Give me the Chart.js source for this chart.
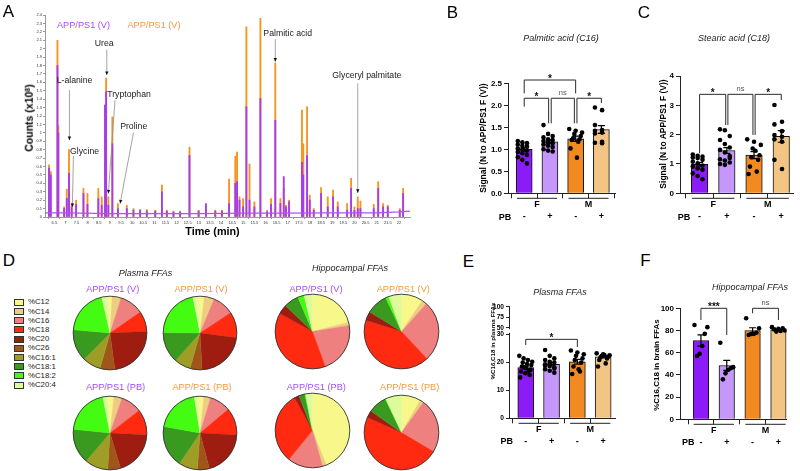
<!DOCTYPE html>
<html>
<head>
<meta charset="utf-8">
<title>APP/PS1 free fatty acids</title>
<script src="https://cdn.jsdelivr.net/npm/chart.js@4.4.1/dist/chart.umd.min.js"></script>
<style>
  body { margin: 0; background: #fff; }
  #fig { position: relative; width: 800px; height: 471px; overflow: hidden; background: #fff;
         font-family: "Liberation Sans", Arial, Helvetica, sans-serif; color: #000; }
  #fig canvas { position: absolute; }
  .lbl { position: absolute; white-space: nowrap; line-height: 1; transform: translate(-50%, -50%); }
  .rot { transform: translate(-50%, -50%) rotate(-90deg); }
  .key { position: absolute; width: 8px; height: 5px; border: 1px solid #333; }
  .keytxt { position: absolute; font-size: 7.8px; line-height: 1; color: #222; transform: translateY(-50%); white-space: nowrap; }
  sup { font-size: 65%; line-height: 0; vertical-align: 0.45em; }
</style>
</head>
<body>
<div id="fig"></div>
<script>
const FONT = "'Liberation Sans', Arial, Helvetica, sans-serif";
Chart.defaults.font.family = FONT;
Chart.defaults.color = '#000';
Chart.defaults.animation = false;
Chart.defaults.plugins.legend.display = false;
Chart.defaults.plugins.tooltip.enabled = false;

// ---------- A: chromatogram (peak apex heights, x10^8 counts) ----------
const peakTime = [6.26, 6.34, 6.64, 6.68, 6.94, 7.06, 7.16, 7.28, 7.48, 7.81, 7.99, 8.48, 8.63, 8.78, 8.83, 8.93, 9.11, 9.36, 9.76, 10.06,
  10.36, 10.66, 11.04, 11.34, 11.56, 11.86, 12.16, 12.58, 12.99, 13.32, 13.74, 14.04, 14.36, 14.64, 14.72, 14.83, 14.99, 15.14, 15.28, 15.5,
  15.77, 16.07, 16.25, 16.44, 16.67, 16.82, 16.92, 17.06, 17.64, 17.7, 17.87, 17.99, 18.17, 18.5, 18.8, 19.04, 19.25, 19.67, 19.85, 20.0,
  20.15, 20.27, 20.87, 21.07, 21.29, 21.5, 22.04, 22.19];
const peakOrange = [0.62, 0.54, 2.1, 1.09, 0.12, 0.33, 0.8, 0.15, 0.2, 0.34, 0.28, 0.34, 0.24, 1.33, 1.65, 0.24, 1.19, 0.16, 0.14, 0.1,
  0.09, 0.09, 0.08, 0.38, 0.08, 0.07, 0.07, 0.83, 0.08, 0.12, 0.08, 0.08, 0.45, 0.72, 0.77, 0.24, 0.22, 2.26, 0.63, 0.18,
  2.36, 0.08, 0.22, 1.83, 0.22, 0.34, 0.14, 0.2, 1.27, 0.87, 1.31, 0.26, 0.1, 0.35, 0.24, 0.32, 0.18, 0.16, 0.46, 0.12,
  0.24, 0.19, 0.15, 0.42, 0.16, 0.14, 0.1, 0.34];
const peakPurple = [0.58, 0.5, 1.8, 1.0, 0.1, 0.22, 0.52, 0.12, 0.15, 0.28, 0.15, 0.22, 0.14, 1.33, 1.49, 0.14, 0.87, 0.1, 0.1, 0.08,
  0.08, 0.07, 0.07, 0.3, 0.07, 0.06, 0.06, 0.73, 0.07, 0.16, 0.07, 0.07, 0.16, 0.4, 0.42, 0.2, 0.12, 1.31, 0.2, 0.12,
  1.41, 0.06, 0.15, 1.15, 0.16, 0.48, 0.12, 0.18, 0.65, 0.5, 0.73, 0.2, 0.08, 0.28, 0.12, 0.24, 0.12, 0.08, 0.34, 0.08,
  0.1, 0.1, 0.1, 0.34, 0.12, 0.12, 0.08, 0.28];
const baseTime = [6.08, 7, 9, 11, 13, 15, 17, 19, 21, 22, 22.5];
const baseLevel = [0.05, 0.05, 0.04, 0.04, 0.04, 0.045, 0.045, 0.05, 0.05, 0.06, 0.07];
const timeTicks = [6.5, 7, 7.5, 8, 8.5, 9, 9.5, 10, 10.5, 11, 11.5, 12, 12.5, 13, 13.5, 14, 14.5, 15, 15.5, 16,
  16.5, 17, 17.5, 18, 18.5, 19, 19.5, 20, 20.5, 21, 21.5, 22];
const countTicks = [0, 0.1, 0.2, 0.3, 0.4, 0.5, 0.6, 0.7, 0.8, 0.9, 1, 1.1, 1.2, 1.3, 1.4, 1.5, 1.6, 1.7, 1.8, 1.9, 2, 2.1, 2.2, 2.3, 2.4];
// annotations: label position and arrow, in (min, counts)
const chromNotes = [
  { name: 'L-alanine', tx: 7.41, ty: 1.615, x1: 7.18, y1: 1.508, x2: 7.18, y2: 0.913 },
  { name: 'Urea', tx: 8.74, ty: 2.064, x1: 8.86, y1: 1.988, x2: 8.86, y2: 1.687 },
  { name: 'Tryptophan', tx: 9.86, ty: 1.457, x1: 9.23, y1: 1.389, x2: 8.93, y2: 0.279 },
  { name: 'Glycine', tx: 7.86, ty: 0.782, x1: 7.36, y1: 0.726, x2: 7.31, y2: 0.119 },
  { name: 'Proline', tx: 10.07, ty: 1.071, x1: 10.06, y1: 1.0, x2: 9.46, y2: 0.16 },
  { name: 'Palmitic acid', tx: 17.0, ty: 2.183, x1: 16.44, y1: 2.112, x2: 16.44, y2: 1.846 },
  { name: 'Glyceryl palmitate', tx: 20.56, ty: 1.675, x1: 20.15, y1: 1.588, x2: 20.15, y2: 0.286 }
];

// ---------- bar panels ----------
const pbLabels = ['-', '+', '-', '+'];
const sexGroups = ['F', 'M'];
const barColors = ['#8c1cf7', '#c597fb', '#f28a22', '#f2c585'];

const palmMean = [1.0, 1.17, 1.24, 1.45];
const palmSem = [0.04, 0.04, 0.06, 0.09];
const palmDots = [
  [1.19, 1.16, 1.14, 1.11, 1.08, 1.06, 1.02, 1.0, 0.97, 0.94, 0.91, 0.87, 0.82, 0.76, 0.68],
  [1.55, 1.35, 1.3, 1.27, 1.23, 1.21, 1.19, 1.16, 1.14, 1.11, 1.08, 1.05, 1.0, 0.97, 0.95],
  [1.46, 1.42, 1.38, 1.35, 1.3, 1.25, 1.23, 1.21, 1.17, 1.02, 0.81],
  [1.95, 1.89, 1.55, 1.44, 1.42, 1.38, 1.36, 1.17, 1.15, 1.14]
];
const palmTicks = [0, 0.5, 1, 1.5, 2, 2.5];
const palmBrackets = [
  { from: 0, to: 2, y: 2.575, legFrom: 2.27, legTo: 2.27, text: '*' },
  { from: 0, to: 0.95, y: 2.16, legFrom: 1.97, legTo: 1.59, text: '*' },
  { from: 1.05, to: 1.95, y: 2.16, legFrom: 1.59, legTo: 1.59, text: 'ns' },
  { from: 2.05, to: 3, y: 2.16, legFrom: 1.59, legTo: 2.05, text: '*' }
];

const stearMean = [0.99, 1.46, 1.3, 1.94];
const stearSem = [0.06, 0.1, 0.12, 0.2];
const stearDots = [
  [1.32, 1.28, 1.25, 1.22, 1.2, 1.14, 1.08, 1.02, 0.95, 0.91, 0.85, 0.8, 0.68, 0.59, 0.48],
  [2.18, 2.15, 1.95, 1.82, 1.68, 1.56, 1.48, 1.39, 1.27, 1.16, 1.12, 1.05, 1.0, 0.97, 1.2],
  [1.84, 1.76, 1.65, 1.53, 1.3, 1.23, 1.14, 0.91, 0.74, 0.66, 1.45],
  [3.01, 2.44, 2.35, 2.12, 1.99, 1.93, 1.84, 1.76, 1.14, 0.83]
];
const stearTicks = [0, 1, 2, 3, 4];
const stearBrackets = [
  { from: 0, to: 0.96, y: 3.375, legFrom: 1.36, legTo: 2.33, text: '*' },
  { from: 1.04, to: 1.96, y: 3.375, legFrom: 2.33, legTo: 1.99, text: 'ns' },
  { from: 2.04, to: 3, y: 3.375, legFrom: 1.99, legTo: 3.18, text: '*' }
];

const plasmaMean = [18.1, 19.3, 20.2, 22.0];
const plasmaSem = [0.5, 0.55, 0.85, 0.4];
const plasmaDots = [
  [22.3, 21.4, 20.8, 20.2, 19.9, 19.4, 19.0, 18.5, 17.9, 17.3, 16.7, 16.1, 15.5, 14.6, 18.2, 17.0],
  [24.4, 22.3, 21.4, 20.8, 20.2, 19.9, 19.3, 18.7, 18.2, 17.5, 17.0, 16.3, 18.9, 19.6, 17.8],
  [24.2, 23.5, 22.9, 22.3, 21.4, 20.8, 19.9, 18.5, 16.7, 15.8, 17.5],
  [23.2, 22.9, 22.5, 22.3, 22.0, 21.8, 21.4, 20.8, 19.6, 18.5, 22.6]
];
const plasmaTicksLow = [0, 10, 20, 30];
const plasmaTicksHigh = [50, 75, 100];
const plasmaBrackets = [{ from: 0, to: 2, y: 28.2, legFrom: 26.2, legTo: 25.5, text: '*' }];

const brainMean = [71, 48.5, 80, 80.5];
const brainSem = [5, 4.5, 2.5, 0.8];
const brainDots = [
  [85, 83, 77, 66, 59, 57],
  [69, 47, 46, 44.4, 41.4, 36],
  [91, 82, 78, 77, 77, 76],
  [83, 82, 81.5, 81, 80, 79.5, 79]
];
const brainTicks = [0, 20, 40, 60, 80, 100];
const brainBrackets = [
  { from: 0, to: 1, y: 100, legFrom: 89.5, legTo: 76, text: '***' },
  { from: 2, to: 3, y: 100, legFrom: 95.5, legTo: 89.5, text: 'ns' }
];

// ---------- D: FFA composition (%) ----------
const fattyAcids = ['%C12', '%C14', '%C16', '%C18', '%C20', '%C26', '%C16:1', '%C18:1', '%C18:2', '%C20:4'];
const faColors = ['#f8f88a', '#eecd80', '#ef8080', '#ff2a10', '#9e1c10', '#a0561a', '#9e9e26', '#3a9a20', '#44fb12', '#ddfb9a'];
const plasmaFV = [2.0, 4.0, 10.5, 9.0, 23.5, 6.5, 8.0, 14.0, 20.0, 2.5];
const plasmaMV = [3.0, 4.4, 9.4, 11.4, 22.0, 5.3, 7.2, 13.6, 21.7, 2.0];
const plasmaFPB = [2.8, 3.6, 9.2, 11.4, 19.5, 5.6, 10.3, 15.3, 20.3, 2.0];
const plasmaMPB = [2.8, 3.0, 9.2, 12.0, 20.0, 5.3, 8.3, 18.3, 19.7, 1.4];
const hippoFV = [21.0, 1.4, 22.0, 38.6, 4.2, 0, 0, 6.4, 2.8, 3.6];
const hippoMV = [9.4, 2.2, 26.4, 41.9, 3.9, 0, 0, 9.2, 1.4, 5.6];
const hippoFPB = [43.9, 1.7, 15.3, 31.1, 2.1, 0, 0, 2.6, 0.3, 3.0];
const hippoMPB = [8.3, 1.7, 23.6, 48.1, 3.1, 0, 0, 8.1, 0.3, 6.9];

const PURPLE_TXT = '#a64dfb';
const ORANGE_TXT = '#f39b36';

// ---------- helpers ----------
const fig = document.getElementById('fig');
function makeCanvas(x, y, w, h) {
  const c = document.createElement('canvas');
  c.width = w; c.height = h;
  c.style.left = x + 'px'; c.style.top = y + 'px';
  c.style.width = w + 'px'; c.style.height = h + 'px';
  fig.appendChild(c);
  return c;
}
function label(html, x, y, css, rotate) {
  const d = document.createElement('div');
  d.className = rotate ? 'lbl rot' : 'lbl';
  d.innerHTML = html;
  d.style.cssText += 'left:' + x + 'px;top:' + y + 'px;' + (css || '');
  fig.appendChild(d);
}

// ---------- A ----------
const chromNotesPlugin = {
  id: 'chromNotes',
  afterDraw(chart) {
    const { ctx, scales: { x, y } } = chart;
    ctx.save();
    chromNotes.forEach(n => {
      const x1 = x.getPixelForValue(n.x1), y1 = y.getPixelForValue(n.y1);
      const x2 = x.getPixelForValue(n.x2), y2 = y.getPixelForValue(n.y2);
      ctx.strokeStyle = '#8d8d8d'; ctx.lineWidth = 0.8;
      ctx.beginPath(); ctx.moveTo(x1, y1); ctx.lineTo(x2, y2); ctx.stroke();
      const a = Math.atan2(y2 - y1, x2 - x1);
      ctx.fillStyle = '#111';
      ctx.beginPath();
      ctx.moveTo(x2, y2);
      ctx.lineTo(x2 - 3.6 * Math.cos(a) + 1.7 * Math.sin(a), y2 - 3.6 * Math.sin(a) - 1.7 * Math.cos(a));
      ctx.lineTo(x2 - 3.6 * Math.cos(a) - 1.7 * Math.sin(a), y2 - 3.6 * Math.sin(a) + 1.7 * Math.cos(a));
      ctx.closePath(); ctx.fill();
      ctx.font = '8.7px ' + FONT; ctx.fillStyle = '#1a1a1a';
      ctx.textAlign = 'center'; ctx.textBaseline = 'middle';
      ctx.fillText(n.name, x.getPixelForValue(n.tx), y.getPixelForValue(n.ty));
    });
    ctx.restore();
  }
};

new Chart(makeCanvas(0, 0, 415, 240), {
  type: 'bar',
  data: {
    datasets: [
      { type: 'line', data: baseTime.map((t, i) => ({ x: t, y: baseLevel[i] })), borderColor: '#b052f5',
        borderWidth: 1.2, pointRadius: 0, order: 0 },
      { data: peakTime.map((t, i) => ({ x: t, y: peakPurple[i] })), backgroundColor: '#a43cf2',
        barThickness: 1.2, maxBarThickness: 1.2, grouped: false, order: 1 },
      { data: peakTime.map((t, i) => ({ x: t, y: peakOrange[i] })), backgroundColor: '#f7931e',
        barThickness: 1.2, maxBarThickness: 1.2, grouped: false, order: 2 }
    ]
  },
  options: {
    responsive: false,
    layout: { padding: { top: 15, right: 5, left: 0, bottom: 0 } },
    scales: {
      x: {
        type: 'linear', min: 6.08, max: 22.5, offset: false,
        afterBuildTicks: s => { s.ticks = timeTicks.map(v => ({ value: v })); },
        afterFit: s => { s.height = 23; },
        grid: { display: true, drawOnChartArea: false, tickLength: 2, color: '#999' },
        border: { color: '#999' },
        ticks: { autoSkip: false, maxRotation: 0, padding: 1, font: { size: 4 }, color: '#333', callback: v => String(v) }
      },
      y: {
        min: 0, max: 2.4,
        afterBuildTicks: s => { s.ticks = countTicks.map(v => ({ value: v })); },
        afterFit: s => { s.width = 45; },
        grid: { display: true, drawOnChartArea: false, tickLength: 2, color: '#999' },
        border: { color: '#999' },
        ticks: { autoSkip: false, padding: 1, font: { size: 4 }, color: '#333', callback: v => String(v) }
      }
    }
  },
  plugins: [chromNotesPlugin]
});

// ---------- bar panel factory ----------
function bracketPlugin(list) {
  return {
    id: 'brackets',
    afterDraw(chart) {
      const { ctx } = chart, x = chart.scales.x, y = chart.scales.y;
      ctx.save();
      ctx.strokeStyle = '#2a2a2a'; ctx.lineWidth = 1;
      list.forEach(b => {
        const xa = x.getPixelForValue(b.from), xb = x.getPixelForValue(b.to), yt = y.getPixelForValue(b.y);
        ctx.beginPath();
        ctx.moveTo(xa, y.getPixelForValue(b.legFrom)); ctx.lineTo(xa, yt);
        ctx.lineTo(xb, yt); ctx.lineTo(xb, y.getPixelForValue(b.legTo));
        ctx.stroke();
        ctx.textAlign = 'center'; ctx.textBaseline = 'alphabetic';
        if (b.text === 'ns') {
          ctx.font = '7.5px ' + FONT; ctx.fillStyle = '#555';
          ctx.fillText('ns', (xa + xb) / 2, yt - 3);
        } else {
          ctx.font = 'bold 10px ' + FONT; ctx.fillStyle = '#111';
          ctx.fillText(b.text, (xa + xb) / 2, yt + 1.5);
        }
      });
      ctx.restore();
    }
  };
}
function errorPlugin(means, sems) {
  return {
    id: 'errbars',
    afterDatasetDraw(chart, args) {
      if (args.index !== 0) return;
      const { ctx, scales: { x, y } } = chart;
      ctx.save(); ctx.strokeStyle = '#000'; ctx.lineWidth = 1.2;
      means.forEach((m, i) => {
        const px = x.getPixelForValue(i), t = y.getPixelForValue(m + sems[i]), b = y.getPixelForValue(m - sems[i]);
        ctx.beginPath();
        ctx.moveTo(px, t); ctx.lineTo(px, b);
        ctx.moveTo(px - 3.5, t); ctx.lineTo(px + 3.5, t);
        ctx.moveTo(px - 3.5, b); ctx.lineTo(px + 3.5, b);
        ctx.stroke();
      });
      ctx.restore();
    }
  };
}
const groupPlugin = {
  id: 'groups',
  afterDraw(chart) {
    const { ctx, chartArea, scales: { x } } = chart;
    ctx.save(); ctx.strokeStyle = '#222'; ctx.lineWidth = 1;
    ctx.font = 'bold 9px ' + FONT; ctx.fillStyle = '#000';
    ctx.textAlign = 'center'; ctx.textBaseline = 'middle';
    sexGroups.forEach((g, k) => {
      const a = x.getPixelForValue(2 * k - 0.28), b = x.getPixelForValue(2 * k + 1.28);
      const ly = chartArea.bottom + 5;
      ctx.beginPath(); ctx.moveTo(a, ly); ctx.lineTo(b, ly); ctx.stroke();
      ctx.fillText(g, (a + b) / 2, chartArea.bottom + 11.5);
    });
    ctx.restore();
  }
};
// gap in the axis line between the two segments of a broken axis
const axisBreakPlugin = {
  id: 'axisBreak',
  afterDraw(chart) {
    const lo = chart.scales.y, hi = chart.scales.y2;
    if (!hi) return;
    const top = hi.getPixelForValue(hi.min) + 1.5, bottom = lo.getPixelForValue(lo.ticks[lo.ticks.length - 1].value) - 1.5;
    const { ctx } = chart;
    ctx.save(); ctx.fillStyle = '#fff';
    ctx.fillRect(lo.right - 2, top, 4, bottom - top);
    ctx.restore();
  }
};
function spread(vals, i) {
  const n = vals.length;
  return vals.map((v, k) => ({ x: i + ((((k * 5) % n) / (n - 1)) - 0.5) * 0.5, y: v }));
}
function barPanel(o) {
  const cv = makeCanvas(o.left, o.top, o.width, o.height);
  const tickSize = o.tickSize || 8;
  const yAxis = (min, max, ticks, fmt, extra) => Object.assign({
    min, max,
    afterBuildTicks: s => { s.ticks = ticks.map(v => ({ value: v })); },
    afterFit: s => { s.width = o.axisW; },
    grid: { display: true, drawOnChartArea: false, tickLength: o.yTickLen || 4, color: '#222' },
    border: { color: '#222', width: 1 },
    ticks: { autoSkip: false, padding: 2, font: { size: tickSize, weight: 'bold' }, callback: fmt }
  }, extra || {});
  const scales = {
    x: {
      type: 'linear', min: o.xMin, max: o.xMax, offset: false,
      afterBuildTicks: s => { s.ticks = pbLabels.map((_, i) => ({ value: i })); },
      afterFit: s => { s.height = o.xH; },
      grid: { display: true, drawOnChartArea: false, tickLength: 5, color: '#222' },
      border: { color: '#222', width: 1 },
      ticks: { autoSkip: false, maxRotation: 0, padding: o.tickPad, font: { size: 9, weight: 'bold' }, callback: v => pbLabels[v] }
    }
  };
  if (o.upper) {
    // lower segment first so it sits under the upper one
    scales.y = yAxis(o.yMin, o.yMax, o.yTicks, o.fmt,
      { position: 'left', stack: 'brk', stackWeight: o.lowerWeight, offset: false });
    scales.y2 = yAxis(o.upper.min, o.upper.max, o.upper.ticks, v => String(v),
      { position: 'left', stack: 'brk', stackWeight: o.upper.weight, offset: false });
  } else {
    scales.y = yAxis(o.yMin, o.yMax, o.yTicks, o.fmt);
  }
  new Chart(cv, {
    type: 'bar',
    data: {
      datasets: [
        { data: o.means.map((m, i) => ({ x: i, y: m })), backgroundColor: barColors, borderColor: '#111',
          borderWidth: 1, barThickness: o.barW, order: 1, xAxisID: 'x', yAxisID: 'y' },
        { type: 'scatter', data: o.dots.flatMap((d, i) => spread(d, i)), pointRadius: 2.3,
          pointBackgroundColor: '#000', pointBorderWidth: 0, order: 0, xAxisID: 'x', yAxisID: 'y' }
      ]
    },
    options: {
      responsive: false,
      layout: { padding: { top: o.padTop, right: o.padRight, left: 0, bottom: 0 } },
      scales
    },
    plugins: [errorPlugin(o.means, o.sems), groupPlugin, bracketPlugin(o.brackets), axisBreakPlugin]
  });
}

// B
barPanel({ left: 460, top: 60, width: 170, height: 170, axisW: 48, padTop: 23.3, padRight: 15, xH: 36.7, tickPad: 13,
  xMin: -0.63, xMax: 3.53, yMin: 0, yMax: 2.5, yTicks: palmTicks, fmt: v => v.toFixed(1), barW: 16,
  means: palmMean, sems: palmSem, dots: palmDots, brackets: palmBrackets });
// C
barPanel({ left: 630, top: 60, width: 170, height: 170, axisW: 50, padTop: 16, padRight: 6.5, xH: 36.7, tickPad: 13,
  xMin: -0.72, xMax: 3.45, yMin: 0, yMax: 4, yTicks: stearTicks, fmt: v => String(v), barW: 16.5,
  means: stearMean, sems: stearSem, dots: stearDots, brackets: stearBrackets });
// E (broken axis: 0-30 below, 50-100 above)
barPanel({ left: 455, top: 290, width: 175, height: 181, axisW: 54, padTop: 16.7, padRight: 15, xH: 52.7, tickPad: 12.7,
  tickSize: 6.6, yTickLen: 3,
  xMin: -0.65, xMax: 3.46, yMin: 0, yMax: 32.36, yTicks: plasmaTicksLow, fmt: v => String(v), barW: 16,
  upper: { min: 50, max: 100, ticks: plasmaTicksHigh, weight: 21 }, lowerWeight: 90.6,
  means: plasmaMean, sems: plasmaSem, dots: plasmaDots, brackets: plasmaBrackets });
// F
barPanel({ left: 630, top: 290, width: 170, height: 181, axisW: 50, padTop: 18.3, padRight: 13.3, xH: 51.7, tickPad: 12.4,
  xMin: -0.81, xMax: 3.32, yMin: 0, yMax: 100, yTicks: brainTicks, fmt: v => String(v), barW: 15.5,
  means: brainMean, sems: brainSem, dots: brainDots, brackets: brainBrackets });

// ---------- D: pies ----------
const rimPlugin = {
  id: 'rim',
  afterDatasetsDraw(chart) {
    const arc = chart.getDatasetMeta(0).data[0];
    const { ctx } = chart;
    ctx.save(); ctx.strokeStyle = '#333'; ctx.lineWidth = 0.9;
    ctx.beginPath(); ctx.arc(arc.x, arc.y, arc.outerRadius, 0, Math.PI * 2); ctx.stroke();
    ctx.restore();
  }
};
function pie(values, cx, cy, r, rot) {
  const size = Math.round(2 * r + 4);
  new Chart(makeCanvas(cx - size / 2, cy - size / 2, size, size), {
    type: 'pie',
    data: { labels: fattyAcids, datasets: [{ data: values, backgroundColor: faColors, borderColor: faColors, borderWidth: 0.4 }] },
    options: { responsive: false, rotation: rot, layout: { padding: 2 } },
    plugins: [rimPlugin]
  });
}
pie(plasmaFV, 110, 333.3, 37, -4);
pie(plasmaMV, 199.5, 333.3, 37, -4);
pie(plasmaFPB, 110, 433.3, 37, -4);
pie(plasmaMPB, 199.5, 433.3, 37, -4);
pie(hippoFV, 312.5, 331, 37.5, 0);
pie(hippoMV, 401.8, 331, 37.5, 0);
pie(hippoFPB, 312.5, 430.5, 37.5, 0);
pie(hippoMPB, 401.8, 432, 37.5, 0);

// legend for D
fattyAcids.forEach((name, i) => {
  const y = 302.3 + i * 9.2;
  const box = document.createElement('div');
  box.className = 'key';
  box.style.cssText += 'left:14px;top:' + (y - 3.5) + 'px;background:' + faColors[i] + ';';
  fig.appendChild(box);
  const t = document.createElement('div');
  t.className = 'keytxt';
  t.textContent = name;
  t.style.cssText += 'left:28px;top:' + y + 'px;';
  fig.appendChild(t);
});

// ---------- text ----------
[['A', 8.5, 10.5], ['B', 452.5, 11.5], ['C', 644, 11.5], ['D', 9, 260], ['E', 468.5, 261], ['F', 645.5, 260]]
  .forEach(([s, x, y]) => label(s, x, y, 'font-size:17px;'));

label('APP/PS1 (V)', 83.5, 25.7, 'font-size:9.2px;color:' + PURPLE_TXT);
label('APP/PS1 (V)', 154, 25.7, 'font-size:9.2px;color:' + ORANGE_TXT);
label('Counts (x10<sup>8</sup>)', 29, 118, 'font-size:10.5px;font-weight:bold;', true);
label('Time (min)', 212.5, 231, 'font-size:10.8px;font-weight:bold;');

label('Palmitic acid (C16)', 561, 38.3, 'font-size:9px;font-style:italic;color:#222;');
label('Stearic acid (C18)', 734, 38.3, 'font-size:9px;font-style:italic;color:#222;');
label('Plasma FFAs', 145.5, 272.7, 'font-size:9px;font-style:italic;color:#222;');
label('Hippocampal FFAs', 350, 268.3, 'font-size:9px;font-style:italic;color:#222;');
label('Plasma FFAs', 560, 291.7, 'font-size:9px;font-style:italic;color:#222;');
label('Hippocampal FFAs', 750, 286.7, 'font-size:9px;font-style:italic;color:#222;');

label('Signal (N to APP/PS1 F (V))', 483, 138, 'font-size:8.5px;font-weight:bold;', true);
label('Signal (N to APP/PS1 F (V))', 663.3, 134, 'font-size:8.5px;font-weight:bold;', true);
label('%C16,C18 in plasma FFAs', 492.5, 341, 'font-size:6.2px;font-weight:bold;', true);
label('%C16,C18 in brain FFAs', 656.7, 365, 'font-size:8px;font-weight:bold;', true);

label('PB', 505, 216.7, 'font-size:9px;font-weight:bold;');
label('PB', 684, 216.7, 'font-size:9px;font-weight:bold;');
label('PB', 506.7, 440.5, 'font-size:9px;font-weight:bold;');
label('PB', 688.3, 441.7, 'font-size:9px;font-weight:bold;');

label('APP/PS1 (V)', 112.7, 290, 'font-size:9.2px;color:' + PURPLE_TXT);
label('APP/PS1 (V)', 201, 290, 'font-size:9.2px;color:' + ORANGE_TXT);
label('APP/PS1 (PB)', 115.5, 388.3, 'font-size:9.2px;color:' + PURPLE_TXT);
label('APP/PS1 (PB)', 202, 388.3, 'font-size:9.2px;color:' + ORANGE_TXT);
label('APP/PS1 (V)', 316, 290, 'font-size:9.2px;color:' + PURPLE_TXT);
label('APP/PS1 (V)', 403.3, 290, 'font-size:9.2px;color:' + ORANGE_TXT);
label('APP/PS1 (PB)', 316.3, 387.7, 'font-size:9.2px;color:' + PURPLE_TXT);
label('APP/PS1 (PB)', 409.7, 387.7, 'font-size:9.2px;color:' + ORANGE_TXT);
</script>
</body>
</html>
